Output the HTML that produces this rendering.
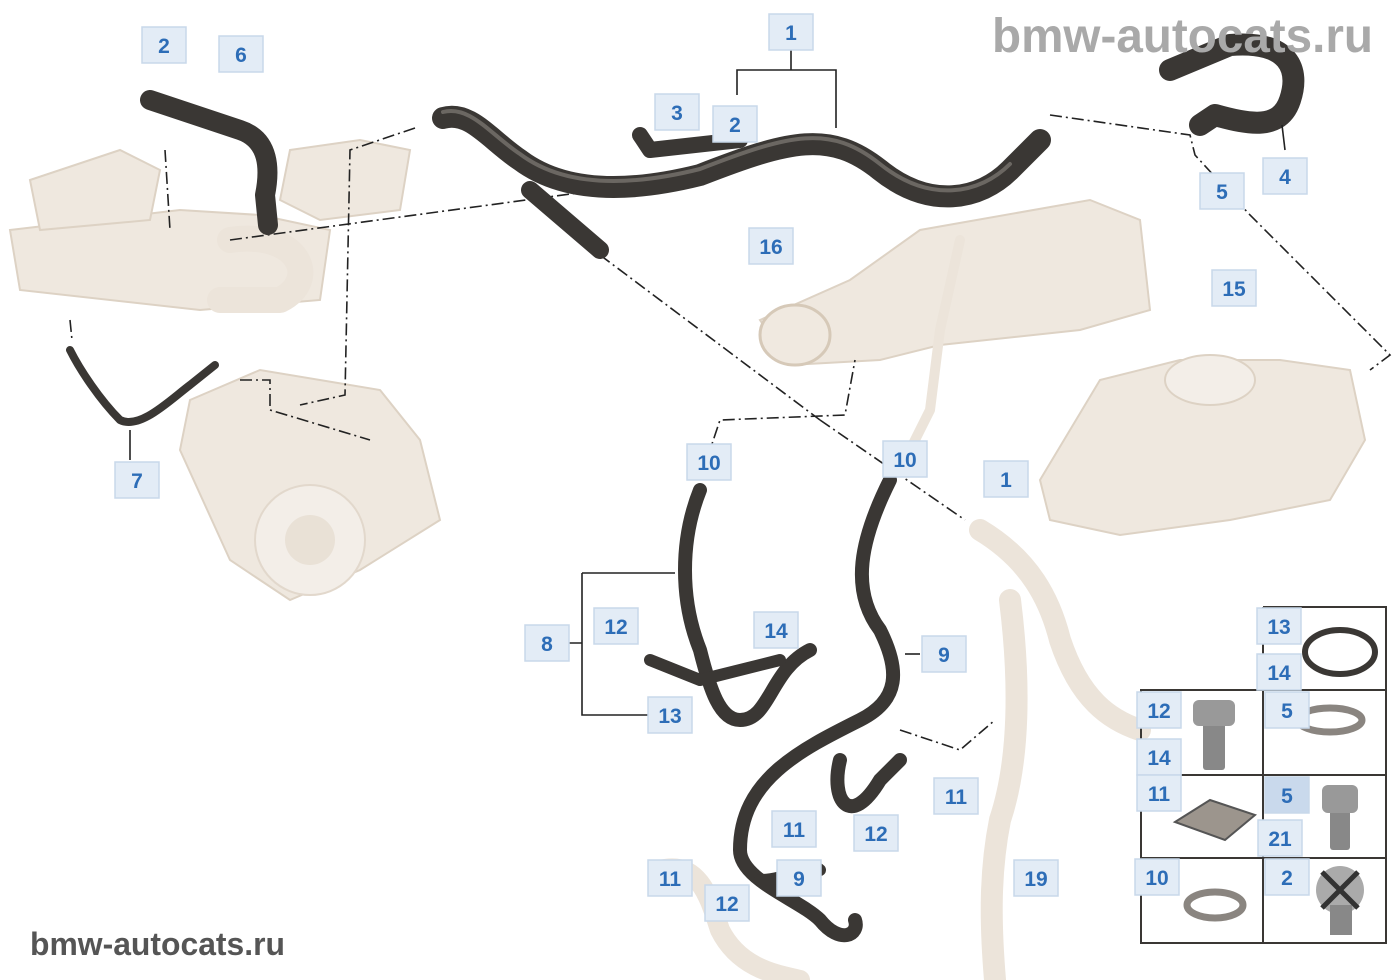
<!DOCTYPE html>
<html><head><meta charset="utf-8"><style>
html,body{margin:0;padding:0;background:#fff;}
svg{display:block;}
.lb rect{fill:#e3ecf6;stroke:#c8d8ea;stroke-width:1.5;}
.lb text{font-family:"Liberation Sans",sans-serif;font-weight:bold;font-size:21px;fill:#2d6db7;text-anchor:middle;}
.h{fill:none;stroke:#3a3734;stroke-linecap:round;stroke-linejoin:round;}
.hl{fill:none;stroke:#6b6762;stroke-linecap:round;stroke-linejoin:round;}
.bg{fill:#efe8df;stroke:#ddd2c4;stroke-width:2;}
.bh{fill:none;stroke:#ece4da;stroke-linecap:round;stroke-linejoin:round;}
.dd{fill:none;stroke:#222;stroke-width:1.6;stroke-dasharray:12 4 2 4;}
.ln{fill:none;stroke:#222;stroke-width:1.6;}
</style></head><body>
<svg width="1400" height="980" viewBox="0 0 1400 980" xmlns="http://www.w3.org/2000/svg">
<path class="bg" d="M10 230 L180 210 L260 215 L330 230 L320 300 L200 310 L20 290 Z"/>
<path class="bg" d="M30 180 L120 150 L160 170 L150 220 L40 230 Z"/>
<path class="bh" stroke-width="26" d="M230 240 C300 230 320 280 280 300 L220 300"/>
<path class="bg" d="M290 150 L360 140 L410 150 L400 210 L320 220 L280 200 Z"/>
<path class="bg" d="M190 400 L260 370 L380 390 L420 440 L440 520 L360 570 L290 600 L230 560 L180 450 Z"/>
<circle cx="310" cy="540" r="55" fill="#f3eee8" stroke="#e2d8cc" stroke-width="2"/>
<circle cx="310" cy="540" r="25" fill="#e9e1d6"/>
<path class="bg" d="M760 320 L850 280 L920 230 L1090 200 L1140 220 L1150 310 L1080 330 L940 345 L880 360 L790 365 Z"/>
<ellipse cx="795" cy="335" rx="35" ry="30" fill="#f0e9e0" stroke="#d6c9b8" stroke-width="3"/>
<path class="bh" stroke-width="10" d="M960 240 L940 330 L930 410 L910 450"/>
<path class="bg" d="M1040 480 L1100 380 L1180 360 L1280 360 L1350 370 L1365 440 L1330 500 L1230 520 L1120 535 L1050 520 Z"/>
<ellipse cx="1210" cy="380" rx="45" ry="25" fill="#f3eee8" stroke="#ddd2c4" stroke-width="2"/>
<path class="bh" stroke-width="22" d="M980 530 C1030 560 1050 600 1060 640 C1080 700 1110 720 1140 730"/>
<path class="bh" stroke-width="22" d="M1010 600 C1020 680 1020 760 1000 820 C990 870 990 920 995 980"/>
<path class="bh" stroke-width="20" d="M660 870 C700 860 710 900 720 930 C740 970 780 975 800 980"/>
<path class="dd" d="M165 150 L170 230"/>
<path class="dd" d="M230 240 L600 190"/>
<path class="dd" d="M415 128 L350 150 L345 395 L300 405"/>
<path class="dd" d="M600 255 L820 420"/>
<path class="dd" d="M820 420 L965 520"/>
<path class="dd" d="M700 480 L720 420 L845 415 L855 360"/>
<path class="dd" d="M1050 115 L1190 135 L1195 155 L1250 215 L1390 355 L1370 370"/>
<path class="dd" d="M70 320 L72 340"/>
<path class="dd" d="M240 380 L270 380 L270 410 L370 440"/>
<path class="dd" d="M900 730 L960 750 L995 720"/>
<path class="h" stroke-width="22" d="M443 118 C470 110 490 140 520 160 C560 190 620 195 700 175 C790 140 830 130 880 170 C930 210 980 200 1010 170 L1040 140"/>
<path class="hl" stroke-width="4" d="M443 112 C470 105 490 134 520 154 C560 184 620 189 700 169 C790 134 830 124 880 164 C930 204 980 194 1010 164"/>
<path class="h" stroke-width="18" d="M530 190 L600 250"/>
<path class="h" stroke-width="16" d="M640 135 L650 150 L740 140"/>
<path class="h" stroke-width="20" d="M150 100 L240 130 C270 140 270 170 265 195 L268 225"/>
<path class="h" stroke-width="22" d="M1170 70 L1230 45 C1290 40 1300 70 1290 100 C1280 130 1250 125 1215 115 L1200 125"/>
<path class="h" stroke-width="8" d="M70 350 C80 370 100 400 120 420 C140 430 170 400 190 385 L215 365"/>
<path class="h" stroke-width="14" d="M700 490 C680 540 680 600 700 650 C710 690 720 720 740 720 C770 720 770 670 810 650"/>
<path class="h" stroke-width="12" d="M650 660 L700 680 L780 660"/>
<path class="h" stroke-width="14" d="M890 480 C860 540 850 590 880 630 C900 670 900 700 860 720 C800 750 740 780 740 850 C740 880 800 900 820 920 C840 945 860 935 855 920"/>
<path class="h" stroke-width="14" d="M840 760 C830 800 850 830 880 780 L900 760"/>
<path class="h" stroke-width="12" d="M760 880 C790 880 810 860 820 870"/>
<path class="ln" d="M737 95 L737 70 L836 70 L836 128 M791 50 L791 70"/>
<path class="ln" d="M582 573 L675 573 M582 573 L582 715 L648 715 M560 643 L582 643"/>
<path class="ln" d="M920 654 L905 654"/>
<path class="ln" d="M130 430 L130 460"/>
<path class="ln" d="M1285 150 L1282 125"/>
<g fill="none" stroke="#3a3734" stroke-width="2">
<path d="M1263 607 L1386 607 L1386 943 L1141 943 L1141 690 L1386 690 M1263 607 L1263 943 M1141 775 L1386 775 M1141 858 L1386 858"/>
</g>
<ellipse cx="1340" cy="652" rx="35" ry="22" fill="none" stroke="#3a3734" stroke-width="6"/>
<rect x="1203" y="715" width="22" height="55" fill="#888" rx="3"/><rect x="1193" y="700" width="42" height="26" fill="#999" rx="6"/>
<ellipse cx="1330" cy="720" rx="32" ry="12" fill="none" stroke="#8a8580" stroke-width="7"/>
<path d="M1175 822 L1210 800 L1255 815 L1225 840 Z" fill="#9c958d" stroke="#555" stroke-width="2"/>
<rect x="1330" y="805" width="20" height="45" fill="#888" rx="3"/><rect x="1322" y="785" width="36" height="28" fill="#999" rx="6"/>
<ellipse cx="1215" cy="905" rx="28" ry="13" fill="none" stroke="#8a8580" stroke-width="7"/>
<circle cx="1340" cy="890" r="24" fill="#aaa"/><rect x="1330" y="905" width="22" height="30" fill="#888"/>
<path d="M1322 872 L1358 908 M1358 872 L1322 908" stroke="#333" stroke-width="5"/>
<g class="lb">
<g transform="translate(791,32)"><rect x="-22" y="-18" width="44" height="36"/><text y="8">1</text></g>
<g transform="translate(164,45)"><rect x="-22" y="-18" width="44" height="36"/><text y="8">2</text></g>
<g transform="translate(241,54)"><rect x="-22" y="-18" width="44" height="36"/><text y="8">6</text></g>
<g transform="translate(677,112)"><rect x="-22" y="-18" width="44" height="36"/><text y="8">3</text></g>
<g transform="translate(735,124)"><rect x="-22" y="-18" width="44" height="36"/><text y="8">2</text></g>
<g transform="translate(1285,176)"><rect x="-22" y="-18" width="44" height="36"/><text y="8">4</text></g>
<g transform="translate(1222,191)"><rect x="-22" y="-18" width="44" height="36"/><text y="8">5</text></g>
<g transform="translate(771,246)"><rect x="-22" y="-18" width="44" height="36"/><text y="8">16</text></g>
<g transform="translate(1234,288)"><rect x="-22" y="-18" width="44" height="36"/><text y="8">15</text></g>
<g transform="translate(137,480)"><rect x="-22" y="-18" width="44" height="36"/><text y="8">7</text></g>
<g transform="translate(709,462)"><rect x="-22" y="-18" width="44" height="36"/><text y="8">10</text></g>
<g transform="translate(905,459)"><rect x="-22" y="-18" width="44" height="36"/><text y="8">10</text></g>
<g transform="translate(1006,479)"><rect x="-22" y="-18" width="44" height="36"/><text y="8">1</text></g>
<g transform="translate(547,643)"><rect x="-22" y="-18" width="44" height="36"/><text y="8">8</text></g>
<g transform="translate(616,626)"><rect x="-22" y="-18" width="44" height="36"/><text y="8">12</text></g>
<g transform="translate(776,630)"><rect x="-22" y="-18" width="44" height="36"/><text y="8">14</text></g>
<g transform="translate(944,654)"><rect x="-22" y="-18" width="44" height="36"/><text y="8">9</text></g>
<g transform="translate(670,715)"><rect x="-22" y="-18" width="44" height="36"/><text y="8">13</text></g>
<g transform="translate(956,796)"><rect x="-22" y="-18" width="44" height="36"/><text y="8">11</text></g>
<g transform="translate(794,829)"><rect x="-22" y="-18" width="44" height="36"/><text y="8">11</text></g>
<g transform="translate(876,833)"><rect x="-22" y="-18" width="44" height="36"/><text y="8">12</text></g>
<g transform="translate(799,878)"><rect x="-22" y="-18" width="44" height="36"/><text y="8">9</text></g>
<g transform="translate(670,878)"><rect x="-22" y="-18" width="44" height="36"/><text y="8">11</text></g>
<g transform="translate(727,903)"><rect x="-22" y="-18" width="44" height="36"/><text y="8">12</text></g>
<g transform="translate(1036,878)"><rect x="-22" y="-18" width="44" height="36"/><text y="8">19</text></g>
<g transform="translate(1279,626)"><rect x="-22" y="-18" width="44" height="36"/><text y="8">13</text></g>
<g transform="translate(1279,672)"><rect x="-22" y="-18" width="44" height="36"/><text y="8">14</text></g>
<g transform="translate(1159,710)"><rect x="-22" y="-18" width="44" height="36"/><text y="8">12</text></g>
<g transform="translate(1287,710)"><rect x="-22" y="-18" width="44" height="36"/><text y="8">5</text></g>
<g transform="translate(1159,757)"><rect x="-22" y="-18" width="44" height="36"/><text y="8">14</text></g>
<g transform="translate(1159,793)"><rect x="-22" y="-18" width="44" height="36"/><text y="8">11</text></g>
<g transform="translate(1287,795)"><rect x="-22" y="-18" width="44" height="36" style="fill:#c9d9ec"/><text y="8">5</text></g>
<g transform="translate(1280,838)"><rect x="-22" y="-18" width="44" height="36"/><text y="8">21</text></g>
<g transform="translate(1157,877)"><rect x="-22" y="-18" width="44" height="36"/><text y="8">10</text></g>
<g transform="translate(1287,877)"><rect x="-22" y="-18" width="44" height="36"/><text y="8">2</text></g>
</g>
<text x="992" y="52" textLength="381" lengthAdjust="spacingAndGlyphs" font-family="Liberation Sans,sans-serif" font-weight="bold" font-size="48" fill="#a9a9a9">bmw-autocats.ru</text>
<text x="30" y="955" textLength="255" lengthAdjust="spacingAndGlyphs" font-family="Liberation Sans,sans-serif" font-weight="bold" font-size="32" fill="#555">bmw-autocats.ru</text>
</svg>
</body></html>
